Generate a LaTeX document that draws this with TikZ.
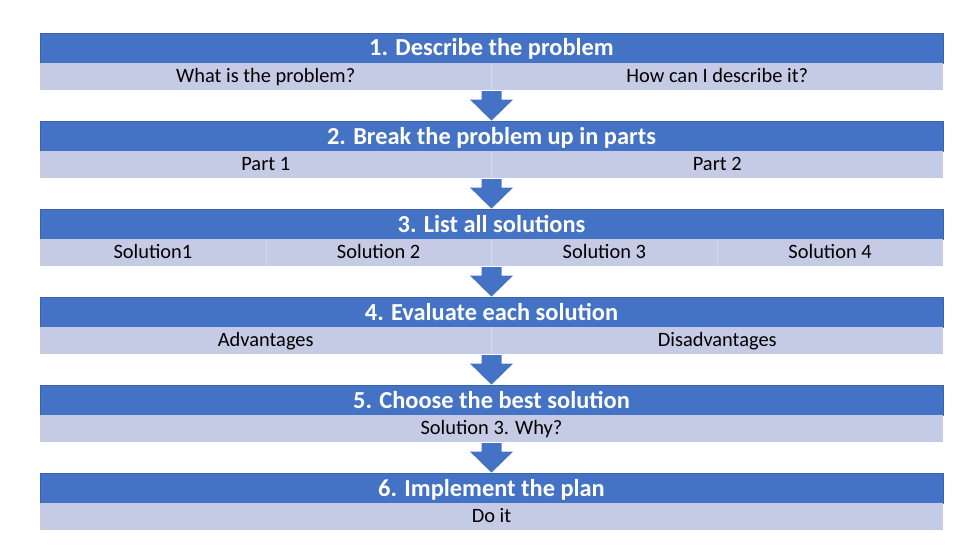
\documentclass[tikz,border=0pt]{standalone}
\usepackage{fontspec}
\setmainfont{Carlito}
\usetikzlibrary{calc}
\definecolor{hdrblue}{HTML}{4472C4}
\definecolor{hdredge}{HTML}{3A62AE}
\definecolor{rowblue}{HTML}{C5CBE4}
\tikzset{
  hdr/.style={fill=hdrblue, draw=hdredge, line width=0.8pt, minimum width=903pt, minimum height=30pt, inner sep=0pt, text height=20pt, text depth=4pt, text=white, font=\fontsize{24.4}{28}\selectfont\bfseries},
  rowbar/.style={fill=rowblue, minimum width=903pt, minimum height=27pt, inner sep=0pt},
  cell/.style={minimum height=27pt, inner sep=0pt, text height=15pt, text depth=4pt, font=\fontsize{20.4}{24}\selectfont, text=black},
  half/.style={cell, minimum width=451.5pt},
  quarter/.style={cell, minimum width=225.75pt},
  divider/.style={draw=white, opacity=0.3, line width=0.6pt},
  blockarrow/.style={fill=hdrblue}
}
\begin{document}
\begin{tikzpicture}[x=1pt,y=-1pt]
\useasboundingbox (0,0) rectangle (980,551);
% block 1
\node[hdr] (h1) at (491.5,48) {1. Describe the problem};
\node[rowbar] (r1) at (491.5,76.5) {};
\node[half] (c1a) at (265.75,76.5) {What is the problem?};
\node[half] (c1b) at (717.25,76.5) {How can I describe it?};
\draw[divider] (c1a.north east) -- (c1a.south east);
% block 2
\node[hdr] (h2) at (491.5,136) {2. Break the problem up in parts};
\node[rowbar] (r2) at (491.5,164.5) {};
\node[half] (c2a) at (265.75,164.5) {Part 1};
\node[half] (c2b) at (717.25,164.5) {Part 2};
\draw[divider] (c2a.north east) -- (c2a.south east);
% block 3
\node[hdr] (h3) at (491.5,224) {3. List all solutions};
\node[rowbar] (r3) at (491.5,252.5) {};
\node[quarter] (c3a) at (152.875,252.5) {Solution1};
\node[quarter] (c3b) at (378.625,252.5) {Solution 2};
\node[quarter] (c3c) at (604.375,252.5) {Solution 3};
\node[quarter] (c3d) at (830.125,252.5) {Solution 4};
\draw[divider] (c3a.north east) -- (c3a.south east);
\draw[divider] (c3b.north east) -- (c3b.south east);
\draw[divider] (c3c.north east) -- (c3c.south east);
% block 4
\node[hdr] (h4) at (491.5,312) {4. Evaluate each solution};
\node[rowbar] (r4) at (491.5,340.5) {};
\node[half] (c4a) at (265.75,340.5) {Advantages};
\node[half] (c4b) at (717.25,340.5) {Disadvantages};
\draw[divider] (c4a.north east) -- (c4a.south east);
% block 5
\node[hdr] (h5) at (491.5,400) {5. Choose the best solution};
\node[rowbar] (r5) at (491.5,428.5) {};
\node[cell] (c5a) at (491.5,428.5) {Solution 3. Why?};
% block 6
\node[hdr] (h6) at (491.5,488) {6. Implement the plan};
\node[rowbar] (r6) at (491.5,516.5) {};
\node[cell] (c6a) at (491.5,516.5) {Do it};
% arrows
\foreach \a/\b in {r1/h2, r2/h3, r3/h4, r4/h5, r5/h6}{
  \fill[blockarrow] ($(\a.south)+(-10,1)$) -- ($(\a.south)+(10,1)$)
    -- ($(\b.north)+(10,-21)$) -- ($(\b.north)+(21.5,-21)$) -- (\b.north)
    -- ($(\b.north)+(-21.5,-21)$) -- ($(\b.north)+(-10,-21)$) -- cycle;
}
\end{tikzpicture}
\end{document}
